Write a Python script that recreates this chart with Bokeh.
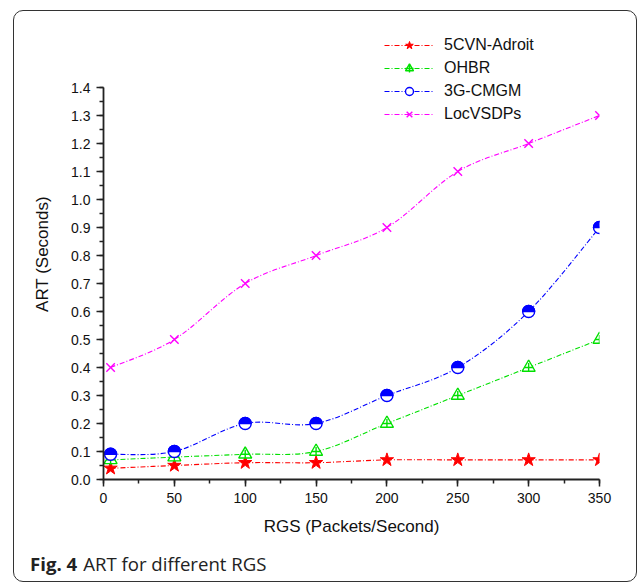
import numpy as np
from bokeh.plotting import figure
from bokeh.layouts import column
from bokeh.models import (Range1d, Legend, LegendItem, Div, InlineStyleSheet,
                          FixedTicker, PrintfTickFormatter, ColumnDataSource)
from bokeh.embed import file_html
from bokeh.resources import INLINE

# ---- data ----
rgs = [5, 50, 100, 150, 200, 250, 300, 350]
cvn_adroit = [0.04, 0.05, 0.06, 0.06, 0.07, 0.07, 0.07, 0.07]
ohbr = [0.07, 0.08, 0.09, 0.10, 0.20, 0.30, 0.40, 0.50]
cmgm = [0.09, 0.10, 0.20, 0.20, 0.30, 0.40, 0.60, 0.90]
locvsdps = [0.40, 0.50, 0.70, 0.80, 0.90, 1.10, 1.20, 1.30]
series_names = ["5CVN-Adroit", "OHBR", "3G-CMGM", "LocVSDPs"]
x_ticks = [0, 50, 100, 150, 200, 250, 300, 350]
y_ticks = [round(0.1 * i, 1) for i in range(15)]

FONT = "Liberation Sans"
W, H = 638, 582
CAP_H = 37
PH = H - CAP_H
L, R, T, B = 103, 599, 28, 479
Y_TOP = 1.4 + (87 - T) / 280.0

p = figure(width=W, height=PH, output_backend="svg", toolbar_location=None,
           x_range=Range1d(0, 350), y_range=Range1d(0, Y_TOP),
           min_border_left=L, min_border_right=W - R,
           min_border_top=T, min_border_bottom=PH - B)
p.outline_line_color = None
p.grid.visible = False
p.background_fill_color = None
p.border_fill_color = None
p.extra_y_ranges = {"hidden": Range1d(100, 101)}

for ax in (p.xaxis[0], p.yaxis[0]):
    ax.axis_line_width = 1.8
    ax.axis_line_color = "#222222"
    ax.major_tick_line_color = "#222222"
    ax.minor_tick_line_color = "#222222"
    ax.major_tick_line_width = 1.5
    ax.minor_tick_line_width = 1.5
    ax.major_tick_in = 0
    ax.major_tick_out = 7
    ax.minor_tick_in = 0
    ax.minor_tick_out = 4
    ax.major_label_text_font = FONT
    ax.major_label_text_font_size = "14px"
    ax.major_label_text_color = "#111111"
    ax.axis_label_text_font = FONT
    ax.axis_label_text_font_size = "17px"
    ax.axis_label_text_font_style = "normal"
    ax.axis_label_text_color = "#111111"

p.xaxis.ticker = FixedTicker(ticks=x_ticks, minor_ticks=list(range(0, 351, 25)))
p.yaxis.ticker = FixedTicker(ticks=y_ticks, minor_ticks=[round(0.05 * i, 2) for i in range(29)])
p.yaxis.formatter = PrintfTickFormatter(format="%.1f")
p.yaxis.bounds = (0, 1.4)
p.xaxis.axis_label = "RGS (Packets/Second)"
p.yaxis.axis_label = "ART (Seconds)"
p.xaxis.major_label_standoff = 6
p.yaxis.major_label_standoff = 6
p.xaxis.axis_label_standoff = 11
p.yaxis.axis_label_standoff = 16


def bezier_source(xs, ys):
    xs = np.asarray(xs, float)
    ys = np.asarray(ys, float)
    n = len(xs)
    d = dict(x0=[], y0=[], x1=[], y1=[], cx0=[], cy0=[], cx1=[], cy1=[])
    for i in range(n - 1):
        im = max(i - 1, 0)
        ip = min(i + 2, n - 1)
        d["x0"].append(xs[i]); d["y0"].append(ys[i])
        d["x1"].append(xs[i + 1]); d["y1"].append(ys[i + 1])
        d["cx0"].append(xs[i] + (xs[i + 1] - xs[im]) / 6)
        d["cy0"].append(ys[i] + (ys[i + 1] - ys[im]) / 6)
        d["cx1"].append(xs[i + 1] - (xs[ip] - xs[i]) / 6)
        d["cy1"].append(ys[i + 1] - (ys[ip] - ys[i]) / 6)
    return ColumnDataSource(d)


DASH = "5 2 1 2"
colors = ["#ff0000", "#00e000", "#0000ff", "#ff00ff"]
all_y = [cvn_adroit, ohbr, cmgm, locvsdps]
items = []
for name, ys, c in zip(series_names, all_y, colors):
    src = bezier_source(rgs, ys)
    p.bezier(x0="x0", y0="y0", x1="x1", y1="y1", cx0="cx0", cy0="cy0",
             cx1="cx1", cy1="cy1", source=src, line_color=c,
             line_width=1.1, line_dash=DASH)
    # legend line sample: same data on a range that lies outside the frame (clipped)
    proxy = p.line(rgs, ys, y_range_name="hidden", line_color=c, line_width=1.1,
                   line_dash=DASH)
    rs = [proxy]
    if name == "5CVN-Adroit":
        rs.append(p.scatter(rgs, ys, marker="star", size=14, fill_color=c, line_color=c))
    elif name == "OHBR":
        rs.append(p.scatter(rgs, ys, marker="triangle", size=13, fill_color="white",
                            line_color=c, line_width=1.4))
        rs.append(p.scatter(rgs, ys, marker="cross", size=9, line_color=c, line_width=1.4))
    elif name == "3G-CMGM":
        rs.append(p.circle(rgs, ys, radius=6, radius_units="screen", fill_color="white",
                           line_color=c, line_width=1.4))
        p.wedge(rgs, ys, radius=6, radius_units="screen", start_angle=0,
                end_angle=np.pi, fill_color=c, line_color=c, line_width=1.4)
    else:
        rs.append(p.scatter(rgs, ys, marker="x", size=12, line_color=c, line_width=1.4))
    items.append(LegendItem(label=name, renderers=rs))

legend = Legend(items=items, location=(281, 355), border_line_color=None,
                background_fill_alpha=0, padding=0, spacing=3, glyph_width=50,
                glyph_height=20, label_height=20, label_standoff=10,
                label_text_font=FONT, label_text_font_size="16px",
                label_text_color="#111111")
p.add_layout(legend, "center")

caption = Div(
    text='<b>Fig. 4</b><span style="margin-left:6px">ART for different RGS</span>',
    width=W, height=CAP_H,
    styles={"font-family": "'Open Sans'", "font-size": "18.6px", "color": "#222222",
            "line-height": "18px", "padding-top": "5px", "padding-left": "25px",
            "box-sizing": "border-box", "white-space": "nowrap"})

page = column(p, caption, spacing=0, width=W, height=H,
              styles={"background-color": "white"})
page.stylesheets = [InlineStyleSheet(css="""
:host { position: relative; }
:host::after {
  content: ''; position: absolute; left: 13px; top: 10px; width: 624px; height: 572px;
  box-sizing: border-box; border: 1.6px solid #333333; border-radius: 10px;
  pointer-events: none; z-index: 10;
}
""")]

open("out.html", "w").write(file_html(page, INLINE))
